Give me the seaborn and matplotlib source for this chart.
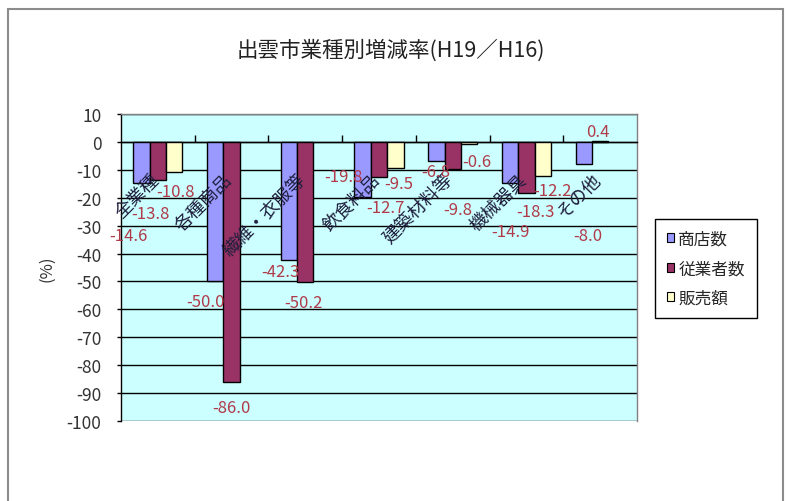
import numpy as np
import pandas as pd
import matplotlib
matplotlib.use("Agg")
import matplotlib.pyplot as plt
import matplotlib.transforms as mtransforms
from matplotlib.patches import Patch, Rectangle
import seaborn as sns

# ---- data ----
categories = ["全業種", "各種商品", "繊維・衣服等", "飲食料品", "建築材料等", "機械器具", "その他"]
series = ["商店数", "従業者数", "販売額"]
shops = [-14.6, -50.0, -42.3, -19.8, -6.8, -14.9, -8.0]
employees = [-13.8, -86.0, -50.2, -12.7, -9.8, -18.3, 0.4]
sales = [-10.8, np.nan, np.nan, -9.5, -0.6, -12.2, np.nan]
yticks = list(range(10, -101, -10))
title = "出雲市業種別増減率(H19／H16)"
ylabel = "(%)"

# ---- style ----
colors = ["#9999FF", "#993366", "#FFFFCC"]
label_color = "#B03A48"
# label offsets in pixels (dx, dy down) relative to bar end, per series, per category
label_offsets = {
    "商店数": [(-13, 53), (-10, 20), (-9, 12), (-19, -21), (-1, 11), (0, 48), (4, 71)],
    "従業者数": [(-7, 33), (0, 26), (-2, 20), (6, 30), (5, 40), (9, 19), (-2, -9)],
    "販売額": [(1, 19), (0, 0), (0, 0), (3, 15), (8, 18), (10, 15), (0, 0)],
}

sns.set_style("white")
plt.rcParams["font.family"] = ["Noto Sans CJK JP", "DejaVu Sans"]
plt.rcParams["axes.unicode_minus"] = False

df = pd.DataFrame({
    "category": categories * 3,
    "series": [s for s in series for _ in categories],
    "value": shops + employees + sales,
})
df = df.dropna()

W, H = 786, 502
fig, ax = plt.subplots(figsize=(W / 100, H / 100), dpi=100)
fig.patch.set_facecolor("white")
ax.set_position([121 / W, 1 - 422 / H, 516 / W, 307 / H])

sns.barplot(data=df, x="category", y="value", hue="series", order=categories,
            hue_order=series, palette=colors, width=3 / 4.5, errorbar=None,
            edgecolor="black", linewidth=1, saturation=1, ax=ax, legend=False,
            zorder=3)

ax.set_facecolor("#CCFFFF")
ax.set_ylim(-100, 10)
ax.set_xlim(-0.5, len(categories) - 0.5)
ax.set_yticks(yticks)
ax.set_yticklabels([str(v) for v in yticks], fontsize=12.5, color="#333333")
ax.yaxis.grid(True, color="black", linewidth=1)
ax.set_axisbelow(True)
ax.tick_params(axis="y", which="major", left=True, length=3, width=1, pad=11, color="black")
ax.set_xlabel("")
ax.set_ylabel(ylabel, fontsize=12, labelpad=8, color="#333333")

# category axis at 0
ax.spines["bottom"].set_position(("data", 0))
ax.spines["bottom"].set_color("black")
ax.spines["bottom"].set_linewidth(1)
ax.spines["left"].set_color("black")
ax.spines["left"].set_linewidth(1)
for s in ("top", "right"):
    ax.spines[s].set_color("#808080")
    ax.spines[s].set_linewidth(1)
ax.set_xticks(range(len(categories)))
ax.set_xticklabels([])
ax.tick_params(axis="x", which="major", length=0)
ax.set_xticks([i + 0.5 for i in range(len(categories) - 1)], minor=True)
ax.tick_params(axis="x", which="minor", direction="in", length=5, width=1, color="black", bottom=True)

# category labels
cat_off = mtransforms.ScaledTranslation(-2 / 100, -35 / 100, fig.dpi_scale_trans)
for i, name in enumerate(categories):
    ax.text(i, 0, name, transform=ax.transData + cat_off, rotation=45,
            rotation_mode="anchor", ha="right", va="center", fontsize=13,
            color="#1E1E3C", zorder=5)

# data labels
for s_idx, cont in enumerate(ax.containers):
    sname = series[s_idx]
    for bar in cont:
        h = bar.get_height()
        if h is None or np.isnan(h):
            continue
        xc = bar.get_x() + bar.get_width() / 2
        ci = int(round(xc))
        dx, dy = label_offsets[sname][ci]
        ax.annotate(f"{h:.1f}", xy=(xc, h), xytext=(dx * 0.72, -dy * 0.72),
                    textcoords="offset points", ha="center", va="center",
                    fontsize=12, color=label_color, zorder=6)

# legend
handles = [Patch(facecolor=c, edgecolor="black", linewidth=0.8) for c in colors]
leg = fig.legend(handles, series, loc="upper left",
                 bbox_to_anchor=(655 / W, 1 - 220 / H), bbox_transform=fig.transFigure,
                 fontsize=12, frameon=True, fancybox=False, framealpha=1,
                 edgecolor="black", handlelength=0.45, handleheight=0.45,
                 handletextpad=0.25, labelspacing=0.75, borderpad=0.7,
                 borderaxespad=0)
leg.get_frame().set_linewidth(1)

# title
fig.text(391 / W, 1 - 51 / H, title, ha="center", va="center", fontsize=15.5, color="#222222")

# chart area border
fig.patches.append(Rectangle((8 / W, -0.05), (783 - 8) / W, 1 - 10 / H + 0.05,
                             transform=fig.transFigure, fill=False,
                             edgecolor="#8C8C8C", linewidth=1.5))

fig.savefig("out.png", dpi=100)
